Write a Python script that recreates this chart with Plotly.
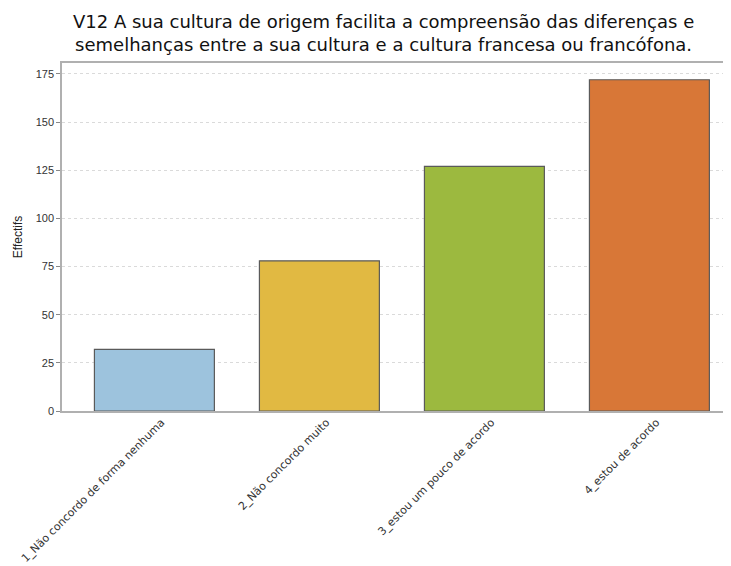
import plotly.graph_objects as go

categories = ["1_Não concordo de forma nenhuma", "2_Não concordo muito",
              "3_estou um pouco de acordo", "4_estou de acordo"]
values = [32, 78, 127, 172]
colors = ["#9DC3DD", "#E1B942", "#9CB93F", "#D87737"]
y_ticks = [0, 25, 50, 75, 100, 125, 150, 175]
title_text = ("V12 A sua cultura de origem facilita a compreensão das diferenças e<br>"
              "semelhanças entre a sua cultura e a cultura francesa ou francófona.")

fig = go.Figure()
fig.add_trace(go.Bar(
    x=categories, y=values,
    marker=dict(color=colors, line=dict(color="#5a5a5a", width=1.2)),
    width=0.727,
))

fig.add_annotation(
    text=title_text, xref="paper", yref="paper",
    x=0.4756, y=1.0, yshift=54, xanchor="center", yanchor="top",
    showarrow=False, align="center",
    font=dict(family="DejaVu Sans, sans-serif", size=18, color="#111111"),
)

fig.update_layout(
    width=731, height=566,
    margin=dict(l=54, r=0, t=55, b=163, autoexpand=False),
    paper_bgcolor="white", plot_bgcolor="white",
    showlegend=False,
    font=dict(family="Liberation Sans, Arial, sans-serif", color="#333333"),
)

fig.update_xaxes(
    range=[-0.56, 3.543],
    tickangle=-45,
    tickfont=dict(family="DejaVu Sans, sans-serif", size=11, color="#333333"),
    ticklabelshift=7, ticklabelstandoff=-1,
    showline=True, linecolor="#b0b0b0", linewidth=1.5,
    mirror=True, automargin=False,
    showgrid=False, ticks="",
)
fig.update_yaxes(
    range=[0, 180.7],
    tickvals=y_ticks,
    tickfont=dict(size=11, color="#333333"),
    title=dict(text="Effectifs", font=dict(size=12, color="#222222"), standoff=10),
    showline=True, linecolor="#b0b0b0", linewidth=1.5,
    ticks="outside", ticklen=4, tickcolor="#888888",
    showgrid=True, gridcolor="#dadada", griddash="dot", gridwidth=1,
    zeroline=False, automargin=False,
)

fig.write_html("out.html")
